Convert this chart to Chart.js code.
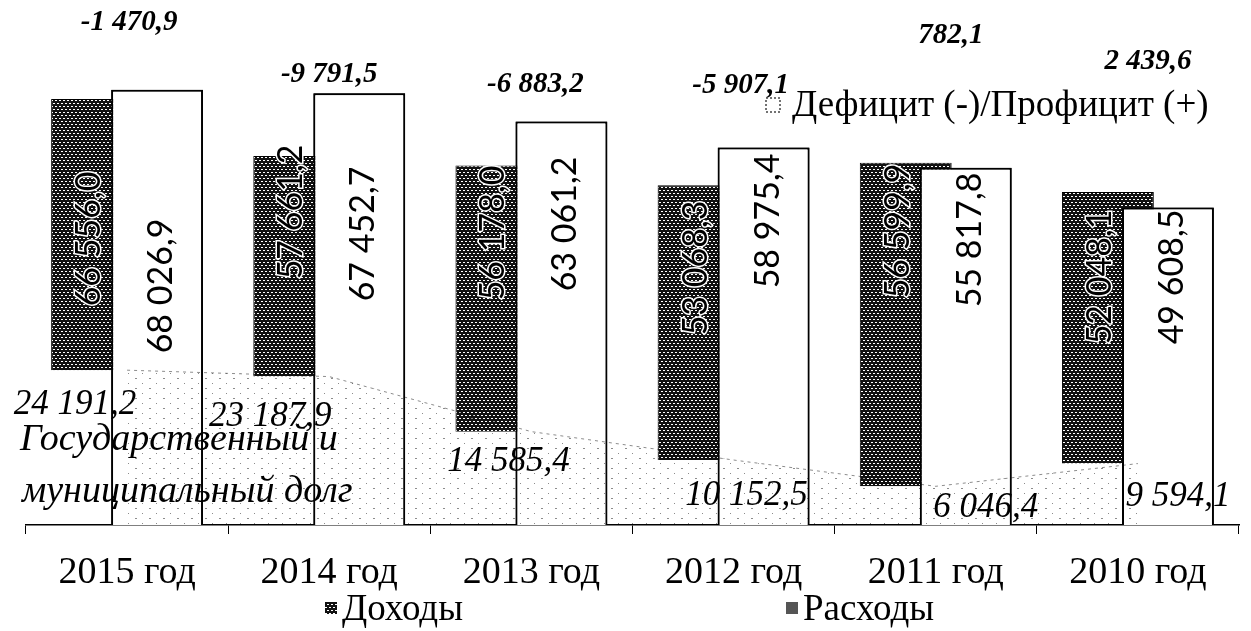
<!DOCTYPE html>
<html lang="ru">
<head>
<meta charset="utf-8">
<script src="https://cdn.jsdelivr.net/npm/chart.js@4.4.0/dist/chart.umd.min.js"></script>
<style>
    html, body { margin: 0; padding: 0; background: #fff; }
    #wrap { width: 1251px; height: 631px; }
</style>
</head>
<body>
<div id="wrap"><canvas id="budgetChart" width="1251" height="631"></canvas></div>
<script>
const years = ['2015 год', '2014 год', '2013 год', '2012 год', '2011 год', '2010 год'];
const income = [66556.0, 57661.2, 56178.0, 53068.3, 56599.9, 52048.1];
const expenses = [68026.9, 67452.7, 63061.2, 58975.4, 55817.8, 49608.5];
const balance = [-1470.9, -9791.5, -6883.2, -5907.1, 782.1, 2439.6];
const debt = [24191.2, 23187.9, 14585.4, 10152.5, 6046.4, 9594.1];

// label placement (canvas px), labels were moved by hand in the original
const incomeLabelY = [239, 212, 233, 268, 231, 277];
const expenseLabelY = [286, 234, 224, 221, 240, 277];
const debtLabelDx = [-52, -59, -23, 13, 50, 40];
const debtLabelY = [405, 417, 462, 496, 508, 497];
const balanceLabelDx = [2, 0, 4, 7, 15, 10];
const balanceLabelY = [23, 75, 85, 86, 36, 62];

function fmt(v) {
    const parts = Math.abs(v).toFixed(1).split('.');
    const whole = parts[0].replace(/\B(?=(\d{3})+(?!\d))/g, ' ');
    return (v < 0 ? '-' : '') + whole + ',' + parts[1];
}

function brickPattern() {
    const c = document.createElement('canvas');
    c.width = 8; c.height = 6;
    const g = c.getContext('2d');
    g.fillStyle = '#111';
    g.fillRect(0, 0, 8, 6);
    g.fillStyle = '#fff';
    g.fillRect(1, 1, 2, 1);
    g.fillRect(5, 1, 2, 1);
    g.fillRect(3, 4, 2, 1);
    g.fillRect(7, 4, 1, 1);
    g.fillRect(0, 4, 1, 1);
    return g.createPattern(c, 'repeat');
}

function dotPattern() {
    const c = document.createElement('canvas');
    c.width = 14; c.height = 10;
    const g = c.getContext('2d');
    g.fillStyle = 'rgba(0,0,0,0.45)';
    g.fillRect(2, 3, 1, 1);
    g.fillRect(9, 8, 2, 1);
    return g.createPattern(c, 'repeat');
}

const ctx = document.getElementById('budgetChart').getContext('2d');
const brick = brickPattern();

// white "Расходы" bars have to lie over the dark ones, so draw them again
const overlapFix = {
    id: 'overlapFix',
    afterDatasetDraw(chart, args) {
        if (args.index === 1) {
            chart.getDatasetMeta(2).controller.draw();
        }
    }
};

const textLayer = {
    id: 'textLayer',
    afterDraw(chart) {
        const g = chart.ctx;
        const x = chart.scales.x;
        g.save();
        g.textAlign = 'center';
        g.textBaseline = 'middle';

        // values inside bars, rotated
        g.font = '34px Lato';
        years.forEach((_, i) => {
            const cx = x.getPixelForValue(i);
            g.save();
            g.translate(cx - 38, incomeLabelY[i]);
            g.rotate(-Math.PI / 2);
            g.lineWidth = 3;
            g.strokeStyle = '#fff';
            g.strokeText(fmt(income[i]), 0, 0);
            g.fillStyle = '#000';
            g.fillText(fmt(income[i]), 0, 0);
            g.restore();

            g.save();
            g.translate(cx + 34, expenseLabelY[i]);
            g.rotate(-Math.PI / 2);
            g.fillStyle = '#000';
            g.fillText(fmt(expenses[i]), 0, 0);
            g.restore();
        });

        // deficit / surplus
        g.fillStyle = '#000';
        g.font = 'italic bold 29px "Liberation Serif"';
        balance.forEach((v, i) => {
            g.fillText(fmt(v), x.getPixelForValue(i) + balanceLabelDx[i], balanceLabelY[i]);
        });

        // debt
        g.font = 'italic 35px "Liberation Serif"';
        debt.forEach((v, i) => {
            g.fillText(fmt(v), x.getPixelForValue(i) + debtLabelDx[i], debtLabelY[i]);
        });
        g.textAlign = 'left';
        g.font = 'italic 38px "Liberation Serif"';
        g.fillText('Государственный и', 20, 440);
        g.fillText('муниципальный долг', 22, 492);

        // legends
        g.font = '37px "Liberation Serif"';
        g.fillStyle = '#fff';
        g.fillRect(766, 98, 14, 14);
        g.strokeStyle = '#444';
        g.lineWidth = 1.5;
        g.setLineDash([2, 2]);
        g.strokeRect(766, 98, 14, 14);
        g.setLineDash([]);
        g.fillStyle = '#000';
        g.fillText('Дефицит (-)/Профицит (+)', 792, 106);

        g.fillStyle = brick;
        g.fillRect(325, 602, 12, 12);
        g.fillStyle = '#000';
        g.fillText('Доходы', 342, 610);

        g.fillStyle = '#555';
        g.fillRect(786, 602, 12, 12);
        g.fillStyle = '#000';
        g.fillText('Расходы', 803, 610);
        g.restore();
    }
};

new Chart(ctx, {
    type: 'bar',
    data: {
        labels: years,
        datasets: [
            {
                type: 'line',
                label: 'Государственный и муниципальный долг',
                data: debt,
                fill: 'origin',
                backgroundColor: dotPattern(),
                borderColor: 'rgba(0,0,0,0.45)',
                borderWidth: 1,
                borderDash: [3, 4],
                pointRadius: 0,
                tension: 0,
                order: -1
            },
            {
                label: 'Доходы',
                data: income.map((v, i) => [debt[i], v]),
                backgroundColor: brick,
                borderColor: '#000',
                borderWidth: 1,
                categoryPercentage: 0.594,
                barPercentage: 1.53,
                order: 0
            },
            {
                label: 'Расходы',
                data: expenses,
                backgroundColor: '#fff',
                borderColor: '#000',
                borderWidth: 2,
                categoryPercentage: 0.594,
                barPercentage: 1.53,
                order: 1
            }
        ]
    },
    options: {
        responsive: false,
        animation: false,
        layout: { padding: { left: 26, right: 12, top: 13, bottom: 0 } },
        plugins: {
            legend: { display: false },
            tooltip: { enabled: false }
        },
        scales: {
            x: {
                grid: { display: true, drawOnChartArea: false, drawTicks: true, tickLength: 9, color: '#000', offset: true },
                border: { display: true, color: '#000', width: 1.5 },
                ticks: { color: '#000', padding: 16, font: { family: 'Liberation Serif', size: 38 } },
                afterFit: s => { s.height = 106; }
            },
            y: { display: false, min: 0, max: 80000 }
        }
    },
    plugins: [overlapFix, textLayer]
});
</script>
</body>
</html>
